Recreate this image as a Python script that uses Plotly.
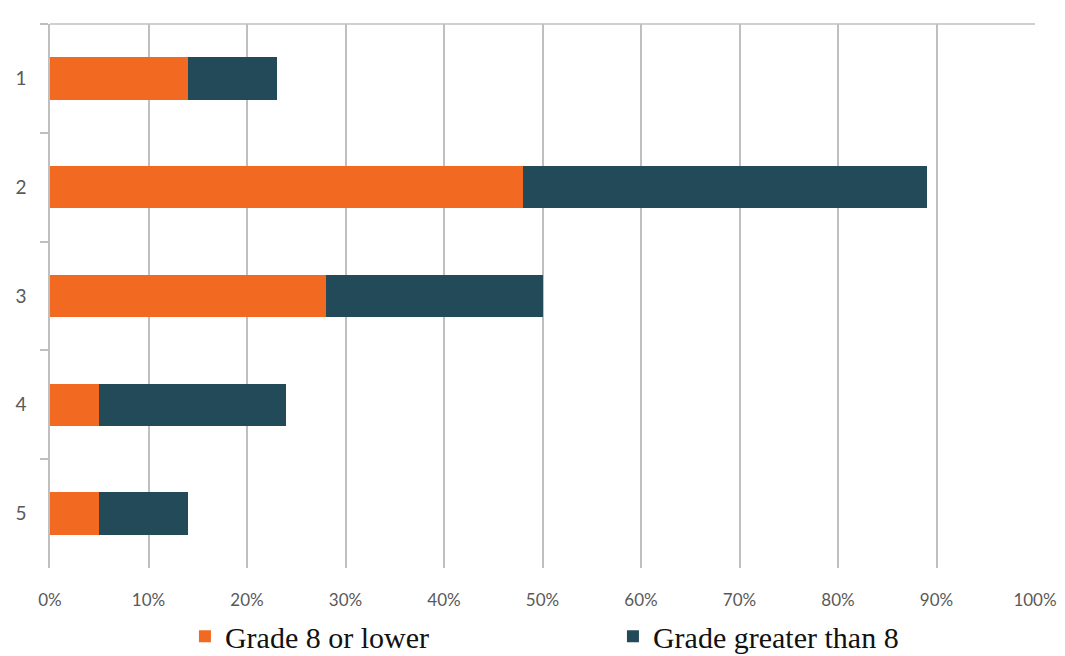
import plotly.graph_objects as go

categories = ["1", "2", "3", "4", "5"]
grade8_lower = [0.14, 0.48, 0.28, 0.05, 0.05]
grade_above8 = [0.09, 0.41, 0.22, 0.19, 0.09]
x_ticks = [0, 0.1, 0.2, 0.3, 0.4, 0.5, 0.6, 0.7, 0.8, 0.9, 1.0]
x_tick_labels = ["0%", "10%", "20%", "30%", "40%", "50%", "60%", "70%", "80%", "90%", "100%"]

ORANGE = "#F26A21"
DARK = "#234A59"
GRID = "#BFBFBF"

fig = go.Figure()
fig.add_trace(go.Bar(
    y=categories, x=grade8_lower, orientation="h", name="Grade 8 or lower",
    marker=dict(color=ORANGE, line=dict(width=0)), width=0.39,
))
fig.add_trace(go.Bar(
    y=categories, x=grade_above8, orientation="h", name="Grade greater than 8",
    marker=dict(color=DARK, line=dict(width=0)), width=0.39,
))

fig.update_layout(
    barmode="stack",
    width=1065, height=656,
    margin=dict(l=50, r=30, t=24, b=88, autoexpand=False),
    plot_bgcolor="white", paper_bgcolor="white",
    bargap=0.61,
    showlegend=True,
    legend=dict(
        orientation="h", x=0.137, xanchor="left",
        yref="container", y=0.03, yanchor="middle",
        font=dict(family="Liberation Serif, Times New Roman, serif", size=30, color="#111111"),
        entrywidth=383, entrywidthmode="pixels", traceorder="normal",
        bgcolor="rgba(0,0,0,0)",
    ),
    xaxis=dict(
        range=[0, 1.0], tickvals=x_ticks, ticktext=x_tick_labels,
        showgrid=True, gridcolor=GRID, gridwidth=1.5,
        zeroline=False, showline=False, automargin=False,
        ticks="", ticklabelstandoff=20,
        tickfont=dict(family="Lato, Open Sans, sans-serif", size=17, color="#595959"),
    ),
    yaxis=dict(
        categoryorder="array", categoryarray=categories, autorange="reversed",
        showgrid=False, zeroline=False, automargin=False,
        showline=True, linecolor=GRID, linewidth=1.5,
        ticks="outside", tickson="boundaries", ticklen=8, tickcolor=GRID, tickwidth=1.5,
        ticklabelstandoff=18,
        tickfont=dict(family="Lato, Open Sans, sans-serif", size=19, color="#595959"),
    ),
    shapes=[dict(type="line", xref="paper", yref="paper", x0=0, x1=1, y0=1, y1=1,
                 line=dict(color=GRID, width=1.5))],
)

fig.write_html("out.html")
